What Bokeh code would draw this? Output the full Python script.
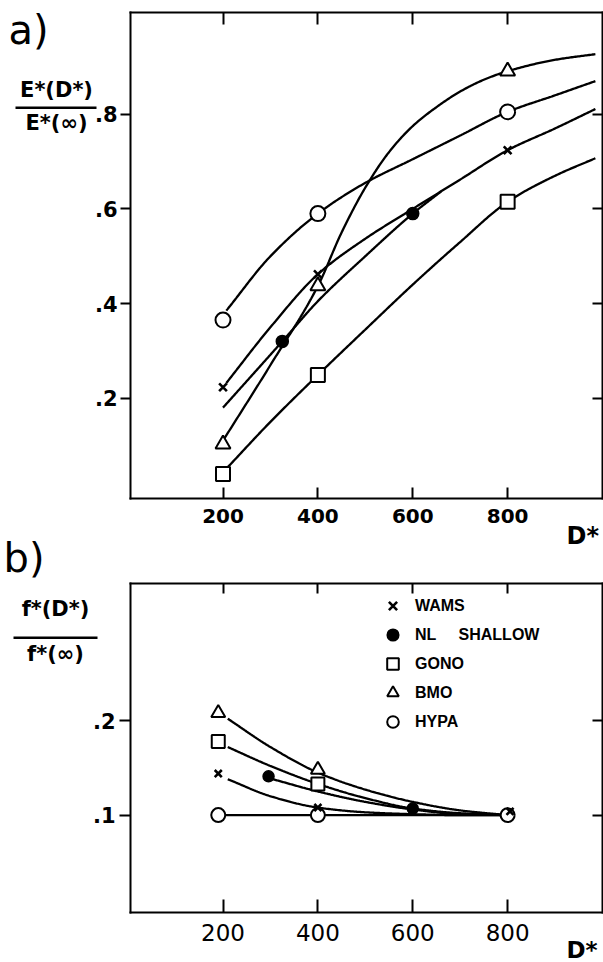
import numpy as np
from bokeh.plotting import figure
from bokeh.models import (Range1d, FixedTicker, LinearAxis, Label, BoxAnnotation,
                          Legend, LegendItem)
from bokeh.embed import file_html
from bokeh.resources import INLINE

# ------------------------------------------------------------------
# Shared x axis (D*)
# ------------------------------------------------------------------
x_ticks = [200, 400, 600, 800]
x_tick_labels = ["200", "400", "600", "800"]

# ------------------------------------------------------------------
# Panel a) : E*(D*) / E*(inf)
# ------------------------------------------------------------------
a_y_ticks = [0.2, 0.4, 0.6, 0.8]
a_y_tick_labels = [".2", ".4", ".6", ".8"]

# measured points
a_wams_x = [200, 400, 800]
a_wams_y = [0.223, 0.462, 0.724]
a_nl_x = [325, 600]
a_nl_y = [0.32, 0.59]
a_gono_x = [200, 400, 800]
a_gono_y = [0.04, 0.249, 0.615]
a_bmo_x = [200, 400, 800]
a_bmo_y = [0.103, 0.437, 0.891]
a_hypa_x = [200, 400, 800]
a_hypa_y = [0.365, 0.59, 0.805]

# fitted curves (knots along each hand-fitted line)
a_wams_curve_x = [207, 300, 400, 500, 600, 700, 800, 900, 985]
a_wams_curve_y = [0.232, 0.350, 0.462, 0.537, 0.600, 0.662, 0.724, 0.770, 0.811]
a_nl_curve_x = [200, 325, 400, 500, 600, 660]
a_nl_curve_y = [0.180, 0.320, 0.405, 0.500, 0.590, 0.637]
a_gono_curve_x = [208, 300, 400, 500, 600, 700, 800, 900, 985]
a_gono_curve_y = [0.052, 0.150, 0.249, 0.345, 0.440, 0.530, 0.615, 0.670, 0.707]
a_bmo_curve_x = [203, 300, 400, 450, 500, 550, 600, 650, 700, 750, 800, 900, 985]
a_bmo_curve_y = [0.115, 0.270, 0.437, 0.550, 0.645, 0.720, 0.775, 0.815, 0.848, 0.873, 0.891, 0.915, 0.927]
a_hypa_curve_x = [207, 300, 400, 500, 600, 700, 800, 900, 985]
a_hypa_curve_y = [0.385, 0.500, 0.590, 0.655, 0.705, 0.755, 0.805, 0.840, 0.870]

# ------------------------------------------------------------------
# Panel b) : f*(D*) / f*(inf)
# ------------------------------------------------------------------
b_y_ticks = [0.1, 0.2]
b_y_tick_labels = [".1", ".2"]

b_wams_x = [190, 400, 805]
b_wams_y = [0.144, 0.108, 0.104]
b_nl_x = [296, 600]
b_nl_y = [0.141, 0.107]
b_gono_x = [190, 400]
b_gono_y = [0.178, 0.133]
b_bmo_x = [190, 400]
b_bmo_y = [0.208, 0.148]
b_hypa_x = [190, 400, 800]
b_hypa_y = [0.100, 0.100, 0.100]

b_wams_curve_x = [210, 300, 400, 500, 600, 700, 800]
b_wams_curve_y = [0.138, 0.120, 0.108, 0.103, 0.101, 0.100, 0.100]
b_nl_curve_x = [305, 400, 500, 600, 700, 800]
b_nl_curve_y = [0.138, 0.125, 0.114, 0.106, 0.101, 0.100]
b_gono_curve_x = [210, 300, 400, 500, 600, 700, 800]
b_gono_curve_y = [0.172, 0.152, 0.133, 0.118, 0.107, 0.102, 0.100]
b_bmo_curve_x = [210, 300, 400, 500, 600, 700, 800]
b_bmo_curve_y = [0.202, 0.172, 0.145, 0.127, 0.114, 0.105, 0.100]
b_hypa_curve_x = [200, 400, 800]
b_hypa_curve_y = [0.100, 0.100, 0.100]

legend_names = ["WAMS", "NL\u00a0\u00a0\u00a0\u00a0\u00a0SHALLOW", "GONO", "BMO", "HYPA"]

# ------------------------------------------------------------------
# Page layout (pixels from the top-left of the page)
# ------------------------------------------------------------------
W, H = 603, 962
FRAME_L, FRAME_R = 130, 602
X_RANGE = (5, 1000)
A_TOP, A_BOT = 12, 498
A_RANGE = (-0.012, 1.015)
B_TOP, B_BOT = 583, 912
B_RANGE = (-0.003, 0.345)

FONT = "DejaVu Sans"
LINE_W = 2.3

KX = (X_RANGE[1] - X_RANGE[0]) / (FRAME_R - FRAME_L)
KA = (A_RANGE[1] - A_RANGE[0]) / (A_BOT - A_TOP)
KB = (B_RANGE[1] - B_RANGE[0]) / (B_BOT - B_TOP)


def px_x(px):
    return X_RANGE[0] + (px - FRAME_L) * KX


def px_y(py):
    """page pixel row -> panel a data units (default y range)"""
    return A_RANGE[0] + (A_BOT - py) * KA


def px_yb(py):
    """page pixel row -> panel b data units"""
    return B_RANGE[0] + (B_BOT - py) * KB


def pchip(xs, ys, n=300):
    """Monotone cubic curve through the knots of a hand-fitted line."""
    x = np.asarray(xs, float)
    y = np.asarray(ys, float)
    if len(x) < 3:
        return x, y
    h = np.diff(x)
    d = np.diff(y) / h
    m = np.zeros_like(y)
    for k in range(1, len(x) - 1):
        if d[k - 1] * d[k] > 0:
            w1 = 2 * h[k] + h[k - 1]
            w2 = h[k] + 2 * h[k - 1]
            m[k] = (w1 + w2) / (w1 / d[k - 1] + w2 / d[k])
    m[0] = d[0]
    m[-1] = d[-1]
    xx = np.linspace(x[0], x[-1], n)
    i = np.clip(np.searchsorted(x, xx) - 1, 0, len(h) - 1)
    t = (xx - x[i]) / h[i]
    h00 = 2 * t**3 - 3 * t**2 + 1
    h10 = t**3 - 2 * t**2 + t
    h01 = -2 * t**3 + 3 * t**2
    h11 = t**3 - t**2
    yy = h00 * y[i] + h10 * h[i] * m[i] + h01 * y[i + 1] + h11 * h[i] * m[i + 1]
    return xx, yy


# One canvas: the plotting frame spans the whole page, the two boxed panels
# are drawn with axes pinned at fixed locations.
p = figure(width=W, height=H, title=None,
           x_range=Range1d(px_x(0), px_x(W)), y_range=Range1d(px_y(H), px_y(0)),
           x_axis_type=None, y_axis_type=None,
           output_backend="svg", toolbar_location=None,
           min_border=0, min_border_left=0, min_border_right=0,
           min_border_top=0, min_border_bottom=0,
           background_fill_color="white", border_fill_color="white",
           outline_line_color=None)
p.extra_y_ranges = {"b": Range1d(px_yb(H), px_yb(0))}
p.grid.visible = False


def style_axis(ax, tick_in, tick_out, labels=None, size="20px", weight="bold", standoff=10):
    ax.axis_line_width = 2
    ax.axis_line_color = "black"
    ax.axis_line_cap = "square"
    ax.major_tick_line_width = 2
    ax.major_tick_line_color = "black"
    ax.minor_tick_line_color = None
    ax.major_tick_in = tick_in
    ax.major_tick_out = tick_out
    if labels is None:
        ax.major_label_text_color = None
    else:
        ax.major_label_overrides = labels
        ax.major_label_text_font = FONT
        ax.major_label_text_font_style = weight
        ax.major_label_text_font_size = size
        ax.major_label_text_color = "black"
        ax.major_label_standoff = standoff
        ax.major_label_orientation = "horizontal"


xt = FixedTicker(ticks=x_ticks, minor_ticks=[])
x_lab = dict(zip(x_ticks, x_tick_labels))

# ---- panel a frame ----
ax = LinearAxis(ticker=xt, fixed_location=A_RANGE[0], bounds=X_RANGE)
style_axis(ax, 11, 0, x_lab, "20px", "bold", 10)
p.add_layout(ax, "below")
ax = LinearAxis(ticker=xt, fixed_location=A_RANGE[1], bounds=X_RANGE)
style_axis(ax, 12, 0)
p.add_layout(ax, "above")
ax = LinearAxis(ticker=FixedTicker(ticks=a_y_ticks, minor_ticks=[]),
                fixed_location=X_RANGE[0], bounds=A_RANGE)
style_axis(ax, 0, 10, dict(zip(a_y_ticks, a_y_tick_labels)), "21px", "bold", 3)
p.add_layout(ax, "left")
ax = LinearAxis(ticker=FixedTicker(ticks=a_y_ticks, minor_ticks=[]),
                fixed_location=X_RANGE[1], bounds=A_RANGE)
style_axis(ax, 10, 0)
p.add_layout(ax, "right")

# ---- panel b frame ----
ax = LinearAxis(ticker=xt, fixed_location=px_y(B_BOT), bounds=X_RANGE)
style_axis(ax, 13, 0, x_lab, "23px", "normal", 11)
p.add_layout(ax, "below")
ax = LinearAxis(ticker=xt, fixed_location=px_y(B_TOP), bounds=X_RANGE)
style_axis(ax, 10, 0)
p.add_layout(ax, "above")
ax = LinearAxis(ticker=FixedTicker(ticks=b_y_ticks, minor_ticks=[]), y_range_name="b",
                fixed_location=X_RANGE[0], bounds=B_RANGE)
style_axis(ax, 0, 11, dict(zip(b_y_ticks, b_y_tick_labels)), "21px", "bold", 4)
p.add_layout(ax, "left")
ax = LinearAxis(ticker=FixedTicker(ticks=b_y_ticks, minor_ticks=[]), y_range_name="b",
                fixed_location=X_RANGE[1], bounds=B_RANGE)
style_axis(ax, 10, 0)
p.add_layout(ax, "right")

MARKERS = {
    "wams": dict(marker="x", size=11, line_width=2.6, line_color="black"),
    "nl": dict(marker="circle", size=12, line_width=1.5, line_color="black", fill_color="black"),
    "gono": dict(marker="square", size=14, line_width=2, line_color="black", fill_color="white"),
    "bmo": dict(marker="triangle", size=15, line_width=2, line_color="black", fill_color="white"),
    "hypa": dict(marker="circle", size=15, line_width=2, line_color="black", fill_color="white"),
}

# ---- panel a curves and points ----
for cx, cy in [(a_wams_curve_x, a_wams_curve_y), (a_nl_curve_x, a_nl_curve_y),
               (a_gono_curve_x, a_gono_curve_y), (a_bmo_curve_x, a_bmo_curve_y),
               (a_hypa_curve_x, a_hypa_curve_y)]:
    sx, sy = pchip(cx, cy)
    p.line(sx, sy, line_color="black", line_width=LINE_W)

for key, xs, ys in [("wams", a_wams_x, a_wams_y), ("nl", a_nl_x, a_nl_y),
                    ("gono", a_gono_x, a_gono_y), ("bmo", a_bmo_x, a_bmo_y),
                    ("hypa", a_hypa_x, a_hypa_y)]:
    p.scatter(xs, ys, **MARKERS[key])

# ---- panel b curves and points ----
for cx, cy in [(b_wams_curve_x, b_wams_curve_y), (b_nl_curve_x, b_nl_curve_y),
               (b_gono_curve_x, b_gono_curve_y), (b_bmo_curve_x, b_bmo_curve_y),
               (b_hypa_curve_x, b_hypa_curve_y)]:
    sx, sy = pchip(cx, cy)
    p.line(sx, sy, line_color="black", line_width=LINE_W, y_range_name="b")

# hollow circles first so the crosses at 800 stay visible on top of them
b_renderers = {}
for key, xs, ys in [("hypa", b_hypa_x, b_hypa_y), ("bmo", b_bmo_x, b_bmo_y),
                    ("gono", b_gono_x, b_gono_y), ("nl", b_nl_x, b_nl_y),
                    ("wams", b_wams_x, b_wams_y)]:
    m = dict(MARKERS[key])
    m["size"] = m["size"] - 1
    b_renderers[key] = p.scatter(xs, ys, y_range_name="b", **m)

legend_keys = ["wams", "nl", "gono", "bmo", "hypa"]
legend = Legend(items=[LegendItem(label=n, renderers=[b_renderers[k]])
                       for n, k in zip(legend_names, legend_keys)],
                location=(373, 221), padding=5, spacing=0,
                glyph_width=29, glyph_height=29, label_height=29, label_standoff=8,
                label_text_font="Liberation Sans", label_text_font_style="bold",
                label_text_font_size="16px", label_text_color="black",
                border_line_alpha=0, background_fill_alpha=0)
p.add_layout(legend)


# ---- panel captions and axis titles ----
def text(x_px, y_px, s, size, style="bold", align="left"):
    p.add_layout(Label(x=px_x(x_px), y=px_y(y_px), text=s, text_font=FONT,
                       text_font_style=style, text_font_size=size,
                       text_align=align, text_baseline="middle", text_color="black"))


def bar(x0, x1, y0, y1):
    p.add_layout(BoxAnnotation(left=px_x(x0), right=px_x(x1), top=px_y(y0), bottom=px_y(y1),
                               fill_color="black", fill_alpha=1, line_alpha=0))


text(8, 29, "a)", "40px", "normal")
text(56, 89, "E*(D*)", "21px", align="center")
bar(15, 96, 106, 108.5)
text(56, 122, "E*(\u221e)", "21px", align="center")
text(566, 535, "D*", "24px")

text(3, 557, "b)", "40px", "normal")
text(55, 608, "f*(D*)", "21px", align="center")
bar(13, 97, 636, 638.5)
text(55, 653, "f*(\u221e)", "21px", align="center")
text(566, 949, "D*", "23px")

open("out.html", "w").write(file_html(p, INLINE))
